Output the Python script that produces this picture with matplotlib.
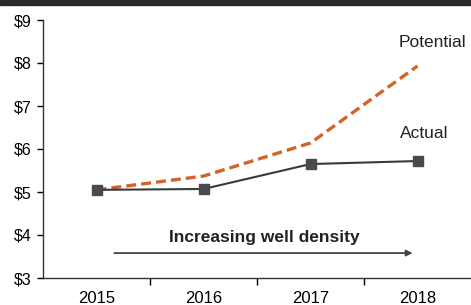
import matplotlib.pyplot as plt
import matplotlib.patches as patches

years = ["2015", "2016", "2017", "2018"]
actual = [5.05, 5.07, 5.65, 5.72]
potential = [5.05, 5.37, 6.14, 7.93]
yticks = [3, 4, 5, 6, 7, 8, 9]

plt.rcParams['font.family'] = ['Liberation Sans', 'DejaVu Sans']

fig = plt.figure(figsize=(4.71, 3.05), dpi=100)
ax = fig.add_axes([43 / 471, 27 / 305, 1 - 43 / 471, 258 / 305])

x = list(range(len(years)))
ax.plot(x, potential, color="#d2642a", linestyle=(0, (3, 1.5)), linewidth=2.4, zorder=2)
ax.plot(x, actual, color="#3a3a3a", linewidth=1.5, marker="s", markersize=7.5,
        markerfacecolor="#4a4a4a", markeredgecolor="#4a4a4a", zorder=3)

ax.set_xlim(-0.5, 3.5)
ax.set_ylim(3, 9)
ax.set_yticks(yticks)
ax.set_yticklabels([f"${v}" for v in yticks], fontsize=11.5)
ax.set_xticks(x)
ax.set_xticklabels(years, fontsize=12)
ax.set_xticks([0.5, 1.5, 2.5], minor=True)
ax.tick_params(axis="x", which="major", length=0, pad=9.5)
ax.tick_params(axis="x", which="minor", length=5, width=1)
ax.tick_params(axis="y", length=4, width=1, pad=4)

for side in ["top", "right"]:
    ax.spines[side].set_visible(False)
for side in ["left", "bottom"]:
    ax.spines[side].set_color("#333333")
    ax.spines[side].set_linewidth(1)

ax.text(3.14, 8.47, "Potential", fontsize=12.5, ha="center", va="center", color="#222222")
ax.text(3.06, 6.37, "Actual", fontsize=12.5, ha="center", va="center", color="#222222")
ax.text(1.57, 3.95, "Increasing well density", fontsize=12.5, fontweight="bold",
        ha="center", va="center", color="#222222")
ax.annotate("", xy=(2.98, 3.58), xytext=(0.14, 3.58),
            arrowprops=dict(arrowstyle="-|>", color="#444444", lw=1.3, mutation_scale=9))

fig.patches.append(patches.Rectangle((0, 1 - 5 / 305), 1, 5 / 305, transform=fig.transFigure,
                                     color="#2a2a2a", zorder=0))

fig.savefig("out.png", dpi=100)
